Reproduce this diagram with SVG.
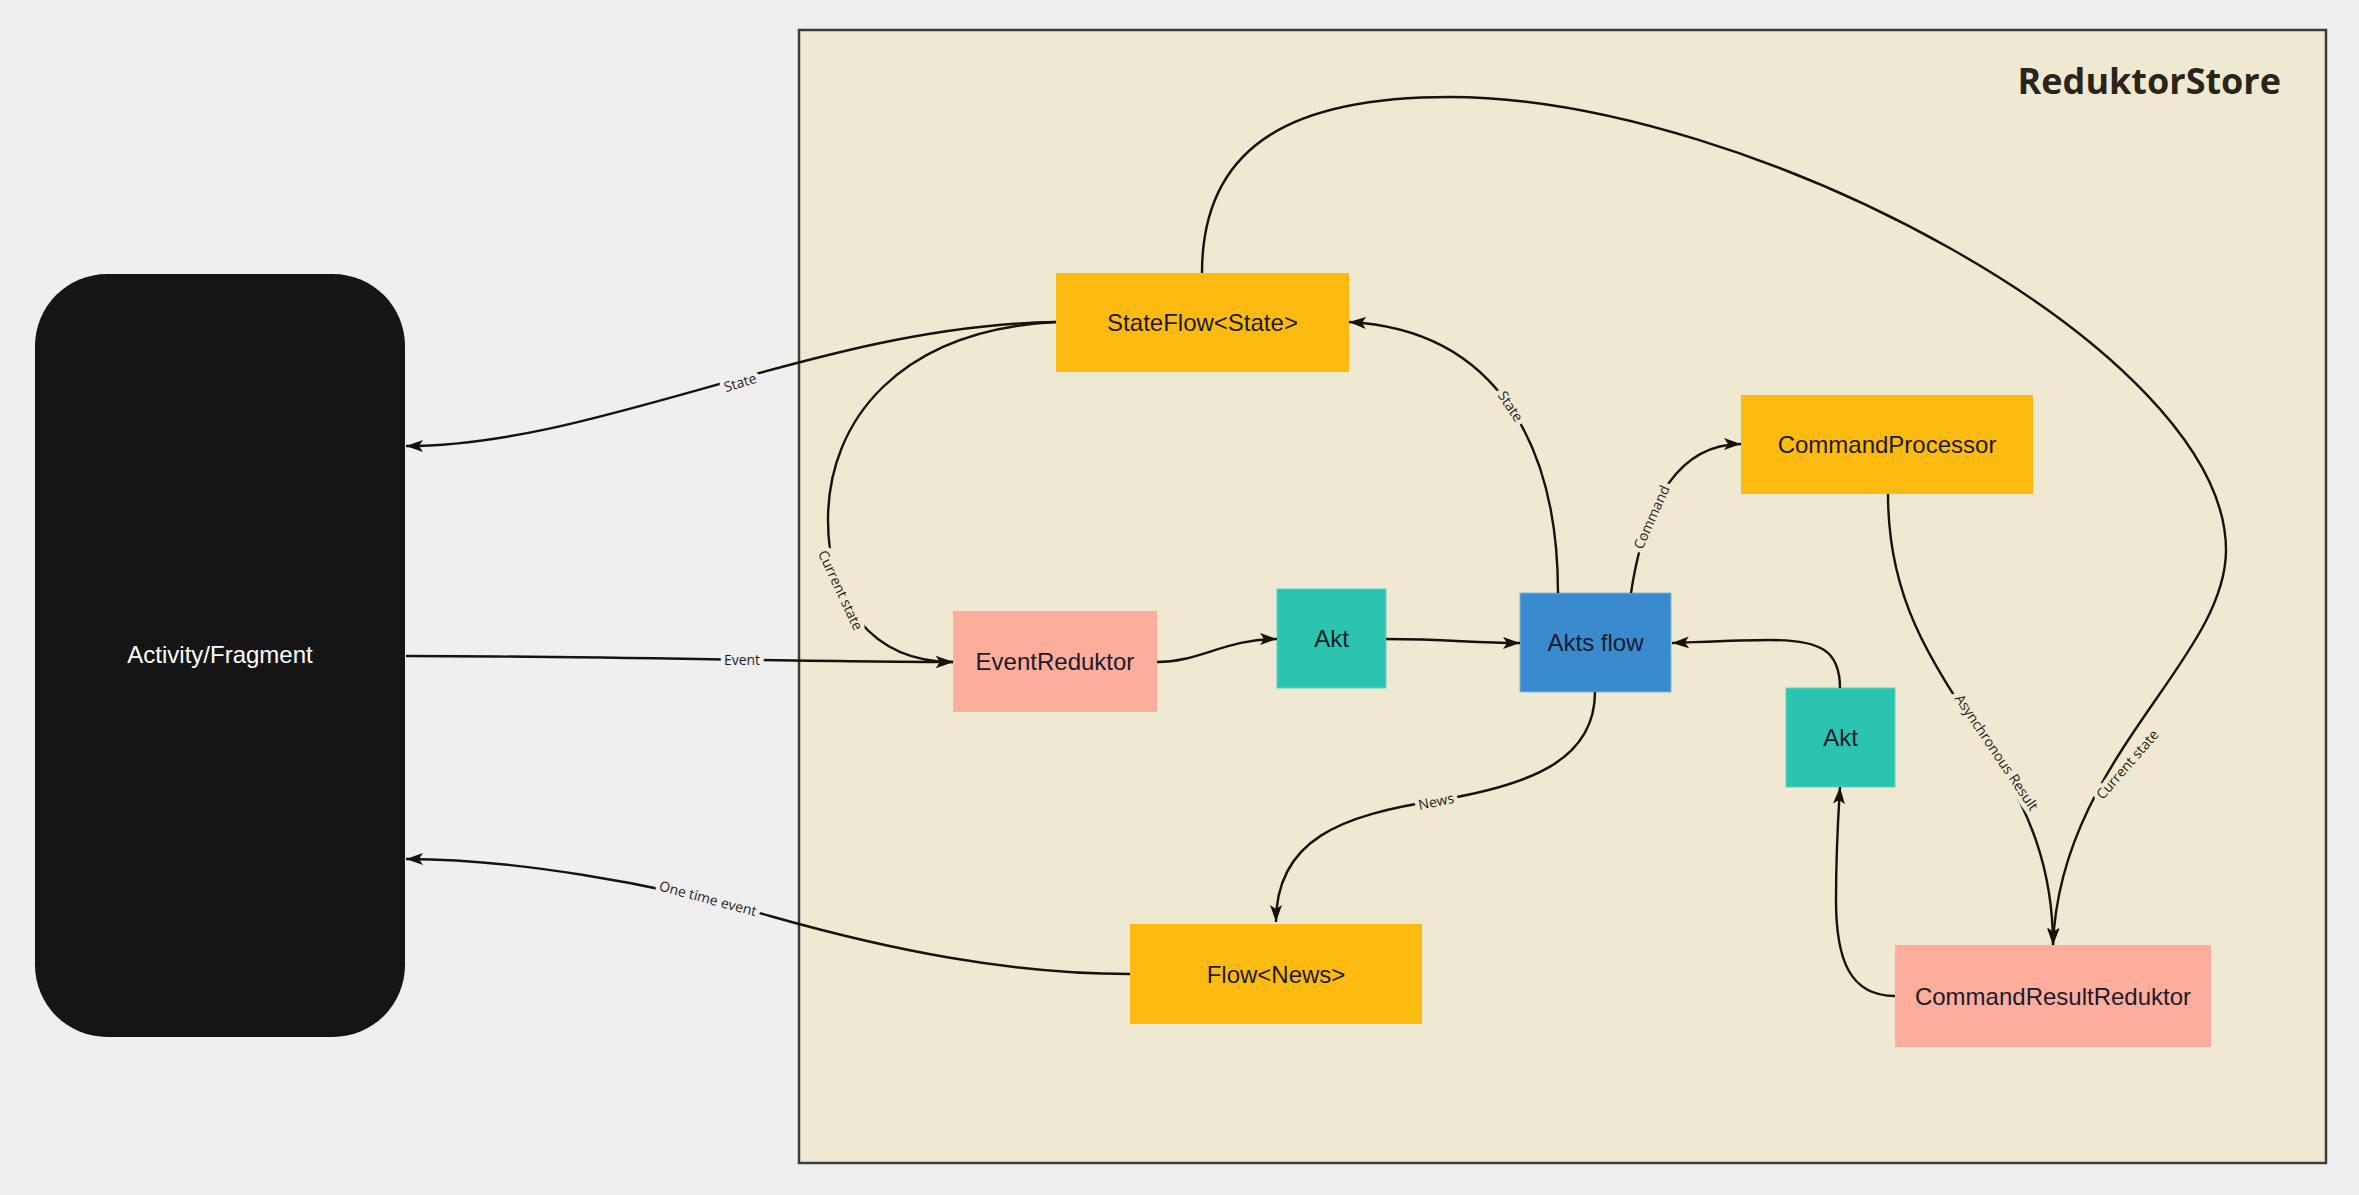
<svg xmlns="http://www.w3.org/2000/svg" width="2359" height="1195" viewBox="0 0 2359 1195">
<style>
.node text{font-family:"Liberation Sans",Arial,sans-serif;font-size:24px;fill:#1b1a2e;text-anchor:middle;dominant-baseline:central}
.y{fill:#fdba10}
.s{fill:#fdae9b}
.t{fill:#2cc4b0;stroke:#5fd3c4;stroke-width:1}
.b{fill:#398bce;stroke:#7fb5df;stroke-width:1}
.edges path{fill:none;stroke:#17130a;stroke-width:2.4}
.lbl{font-family:"Open Sans",sans-serif;font-size:14px;fill:#1e1e1e;text-anchor:middle;dominant-baseline:central;paint-order:stroke;stroke-width:9px;stroke-linejoin:round}
.in{stroke:#f0e9d2}
.out{stroke:#efefef}
</style>
<defs>
<marker id="arr" viewBox="0 0 17 12" refX="17" refY="6" markerWidth="17" markerHeight="12" markerUnits="userSpaceOnUse" orient="auto"><path d="M0,0 L17,6 L0,12 L4,6 z" fill="#17130a"/></marker>
</defs>
<rect x="0" y="0" width="2359" height="1195" fill="#efefef"/>
<g id="reduktorstore">
<rect x="799" y="30" width="1527" height="1133" fill="#f0e9d2" stroke="#3c3c3c" stroke-width="2.5"/>
<text x="2281" y="94" font-family="'Open Sans',sans-serif" font-weight="bold" font-size="36" fill="#29251a" text-anchor="end">ReduktorStore</text>
</g>
<g id="activity" class="node">
<rect x="35" y="274" width="370" height="763" rx="72" fill="#151515"/>
<text x="220" y="654" style="fill:#ffffff">Activity/Fragment</text>
</g>
<g id="stateflow" class="node">
<rect class="y" x="1056" y="273" width="293" height="99"/>
<text x="1202.5" y="322.5">StateFlow&lt;State&gt;</text>
</g>
<g id="commandprocessor" class="node">
<rect class="y" x="1741" y="395" width="292" height="99"/>
<text x="1887" y="444.5">CommandProcessor</text>
</g>
<g id="eventreduktor" class="node">
<rect class="s" x="953" y="611" width="204" height="101"/>
<text x="1055" y="661.5">EventReduktor</text>
</g>
<g id="akt1" class="node">
<rect class="t" x="1277" y="589" width="109" height="99"/>
<text x="1331.5" y="638.5">Akt</text>
</g>
<g id="aktsflow" class="node">
<rect class="b" x="1520" y="593" width="151" height="99"/>
<text x="1595.5" y="642.5">Akts flow</text>
</g>
<g id="akt2" class="node">
<rect class="t" x="1786" y="688" width="109" height="99"/>
<text x="1840.5" y="737.5">Akt</text>
</g>
<g id="flownews" class="node">
<rect class="y" x="1130" y="924" width="292" height="100"/>
<text x="1276" y="974">Flow&lt;News&gt;</text>
</g>
<g id="commandresultreduktor" class="node">
<rect class="s" x="1895" y="945" width="316" height="102"/>
<text x="2053" y="996">CommandResultReduktor</text>
</g>
<g class="edges">
<path d="M1056,322 C820,325 600,446 406,446" marker-end="url(#arr)"/>
<path d="M1056,322 C900,330 828,420 828,520 C828,600 870,662 953,662" marker-end="url(#arr)"/>
<path d="M406,656 C600,656 800,662 953,662" marker-end="url(#arr)"/>
<path d="M1157,662 C1200,662 1225,639 1277,639" marker-end="url(#arr)"/>
<path d="M1386,639 C1450,639 1470,643 1520,643" marker-end="url(#arr)"/>
<path d="M1558,593 C1558,450 1500,330 1349,322" marker-end="url(#arr)"/>
<path d="M1631,593 C1645,500 1680,444 1741,444" marker-end="url(#arr)"/>
<path d="M1888,494 C1888,600 1930,660 1990,750 C2030,810 2053,870 2053,945" marker-end="url(#arr)"/>
<path d="M1202,273 C1202,140 1300,97 1450,97 C1750,97 2226,350 2226,550 C2226,660 2060,760 2053,945" marker-end="url(#arr)"/>
<path d="M1595,692 C1595,760 1530,785 1440,800 C1340,815 1276,840 1276,922" marker-end="url(#arr)"/>
<path d="M1840,688 C1840,650 1820,640 1770,640 C1740,640 1700,642 1672,643" marker-end="url(#arr)"/>
<path d="M1895,996 C1850,996 1836,960 1836,900 C1836,850 1838,820 1840,787" marker-end="url(#arr)"/>
<path d="M1130,974 C1010,974 890,950 770,916 C650,882 510,859 406,859" marker-end="url(#arr)"/>
<text class="lbl out" transform="translate(740,382) rotate(-17)">State</text>
<text class="lbl in" transform="translate(841,590) rotate(65)">Current state</text>
<text class="lbl out" transform="translate(742,659)">Event</text>
<text class="lbl in" transform="translate(1511,406) rotate(56)">State</text>
<text class="lbl in" transform="translate(1651,517) rotate(-66)">Command</text>
<text class="lbl in" transform="translate(1997,752) rotate(56)">Asynchronous Result</text>
<text class="lbl in" transform="translate(2127,764) rotate(-49)">Current state</text>
<text class="lbl in" transform="translate(1436,801) rotate(-12)">News</text>
<text class="lbl out" transform="translate(708,898) rotate(15)">One time event</text>
</g>
</svg>
